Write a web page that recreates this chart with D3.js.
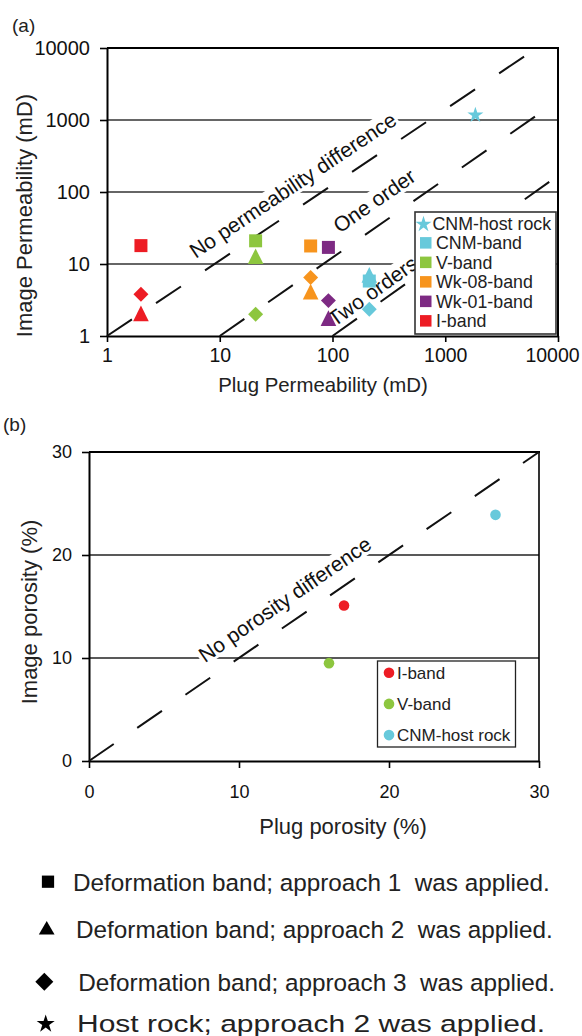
<!DOCTYPE html>
<html>
<head>
<meta charset="utf-8">
<script src="https://cdn.jsdelivr.net/npm/d3@7"></script>
<style>
  body { margin: 0; background: #fff; }
  svg { display: block; }
</style>
</head>
<body>
<svg width="582" height="1036"></svg>
<script>
// ---- (a) permeability data ----
const permGroups = ['CNM-host rock', 'CNM-band', 'V-band', 'Wk-08-band', 'Wk-01-band', 'I-band']
const permGroup = ['I-band', 'I-band', 'I-band', 'V-band', 'V-band', 'V-band',
  'Wk-08-band', 'Wk-08-band', 'Wk-08-band', 'Wk-01-band', 'Wk-01-band', 'Wk-01-band',
  'CNM-band', 'CNM-band', 'CNM-band', 'CNM-host rock']
const permApproach = ['1', '2', '3', '1', '2', '3', '1', '2', '3', '1', '2', '3', '1', '2', '3', 'host']
const plugPerm = [2, 2, 2, 20.8, 20.8, 20.8, 64, 64, 64, 92, 92, 92, 212, 212, 212, 1850]
const imagePerm = [18, 1.9, 3.8, 21, 11.8, 2.0, 17.8, 3.8, 6.5, 17, 1.63, 3.1, 5.8, 6.5, 2.35, 1170]
const permTicks = [1, 10, 100, 1000, 10000]

// reference lines drawn on (a)
const refNames = ['No permeability difference', 'One order', 'Two orders']
const refStart = [[1, 1], [10, 1], [100, 1]]
const refEnd = [[6500, 10000], [10000, 1860], [10000, 169]]
const refLabelAt = [57, 306, 266]

// ---- (b) porosity data ----
const poroGroups = ['I-band', 'V-band', 'CNM-host rock']
const plugPoro = [17, 16, 27.1]
const imagePoro = [15.1, 9.5, 23.9]
const poroTicks = [0, 10, 20, 30]

// ---- shape key ----
const keyShapes = ['1', '2', '3', 'host']
const keyTexts = [
  'Deformation band; approach 1\u00a0 was applied.',
  'Deformation band; approach 2\u00a0 was applied.',
  'Deformation band; approach 3\u00a0 was applied.',
  'Host rock; approach 2 was applied.'
]

const FONT = "'Liberation Sans', Arial, sans-serif"
const colors = d3.scaleOrdinal()
  .domain(['CNM-host rock', 'CNM-band', 'V-band', 'Wk-08-band', 'Wk-01-band', 'I-band'])
  .range(['#67c9db', '#67c9db', '#8dc63f', '#f7941d', '#7d2a83', '#ed1c24'])

const svg = d3.select('svg')

// isoceles triangle, centred on its centroid
const symbolTri = {
  draw (ctx, size) {
    const h = Math.sqrt(size * 2)
    ctx.moveTo(0, -h * 2 / 3)
    ctx.lineTo(h / 2, h / 3)
    ctx.lineTo(-h / 2, h / 3)
    ctx.closePath()
  }
}

function shapeOf (kind, big) {
  if (kind === '1') return { d: d3.symbol(d3.symbolSquare, big ? 150 : 169)(), rot: 0 }
  if (kind === '2') return { d: d3.symbol(big ? d3.symbolTriangle : symbolTri, big ? 107 : 122)(), rot: 0 }
  if (kind === '3') return { d: d3.symbol(d3.symbolSquare, big ? 162 : 112)(), rot: 45 }
  return { d: d3.symbol(d3.symbolStar, big ? 101 : 80)(), rot: 0 }
}

function styleAxis (g, size) {
  g.attr('font-family', null).attr('font-size', null)
  g.select('.domain').attr('stroke', '#000').attr('stroke-width', 2)
  g.selectAll('.tick line').attr('stroke', '#000').attr('stroke-width', 1.6)
  g.selectAll('.tick text').attr('font-family', FONT).attr('font-size', size).attr('fill', '#111')
}

function lineLabel (g, p1, p2, atX, off, text, size) {
  const ang = Math.atan2(p2[1] - p1[1], p2[0] - p1[0])
  const t = (atX - p1[0]) / (p2[0] - p1[0])
  const fx = atX
  const fy = p1[1] + t * (p2[1] - p1[1])
  const nx = Math.sin(ang)
  const ny = -Math.cos(ang)
  const lg = g.append('g')
    .attr('transform', 'translate(' + (fx + off * nx) + ',' + (fy + off * ny) + ') rotate(' + (ang * 180 / Math.PI) + ')')
  const bg = lg.append('rect').attr('fill', '#fff')
  const tx = lg.append('text')
    .attr('text-anchor', 'middle')
    .attr('font-family', FONT)
    .attr('font-size', size)
    .attr('fill', '#111')
    .text(text)
  const bb = tx.node().getBBox()
  bg.attr('x', bb.x - 2).attr('y', bb.y + 1).attr('width', bb.width + 4).attr('height', bb.height - 2)
}

// ================= panel (a) =================
const a = { left: 107, right: 558, top: 48, bottom: 336 }
const xA = d3.scaleLog().domain([1, 10000]).range([a.left, a.right])
const yA = d3.scaleLog().domain([1, 10000]).range([a.bottom, a.top])
const gA = svg.append('g')

gA.selectAll('.gridA')
  .data(permTicks.slice(1, -1))
  .enter().append('line')
  .attr('x1', a.left).attr('x2', a.right)
  .attr('y1', d => yA(d)).attr('y2', d => yA(d))
  .attr('stroke', '#333').attr('stroke-width', 1.3)

gA.append('line')
  .attr('x1', a.left).attr('x2', a.right + 1)
  .attr('y1', a.top).attr('y2', a.top)
  .attr('stroke', '#000').attr('stroke-width', 2.2)
gA.append('line')
  .attr('x1', a.right).attr('x2', a.right)
  .attr('y1', a.top).attr('y2', a.bottom)
  .attr('stroke', '#000').attr('stroke-width', 2)

gA.append('g')
  .attr('transform', 'translate(0,' + a.bottom + ')')
  .call(d3.axisBottom(xA).tickValues(permTicks).tickFormat(d3.format('d'))
    .tickSizeInner(6).tickSizeOuter(0).tickPadding(6))
  .call(g => styleAxis(g, 19.5))
  .call(g => g.selectAll('.tick text').filter(d => d === 10000).attr('dx', -6))

gA.append('g')
  .attr('transform', 'translate(' + a.left + ',0)')
  .call(d3.axisLeft(yA).tickValues(permTicks).tickFormat(d3.format('d'))
    .tickSizeInner(7).tickSizeOuter(0).tickPadding(10))
  .call(g => styleAxis(g, 20))

// reference line labels (white boxes hide gridlines)
refNames.forEach((name, i) => {
  const p1 = [xA(refStart[i][0]), yA(refStart[i][1])]
  const p2 = [xA(refEnd[i][0]), yA(refEnd[i][1])]
  lineLabel(gA, p1, p2, xA(refLabelAt[i]), [14.5, 15.3, 6][i], name, 21)
})

refNames.forEach((name, i) => {
  gA.append('line')
    .attr('x1', xA(refStart[i][0])).attr('y1', yA(refStart[i][1]))
    .attr('x2', xA(refEnd[i][0])).attr('y2', yA(refEnd[i][1]))
    .attr('stroke', '#111').attr('stroke-width', 2)
    .attr('stroke-dasharray', '30,29')
})

gA.selectAll('.pt')
  .data(d3.range(plugPerm.length))
  .enter().append('path')
  .attr('d', i => shapeOf(permApproach[i], false).d)
  .attr('transform', i => 'translate(' + xA(plugPerm[i]) + ',' + yA(imagePerm[i]) + ') rotate(' + shapeOf(permApproach[i], false).rot + ')')
  .attr('fill', i => colors(permGroup[i]))

// legend (a)
const legA = gA.append('g')
legA.append('rect')
  .attr('x', 415).attr('y', 212).attr('width', 141).attr('height', 122)
  .attr('fill', '#fff').attr('stroke', '#333').attr('stroke-width', 1.6)
permGroups.forEach((name, i) => {
  const cy = 223.3 + i * 19.5
  if (i === 0) {
    legA.append('path').attr('d', d3.symbol(d3.symbolStar, 80)())
      .attr('transform', 'translate(423.5,' + (cy + 1) + ')')
      .attr('fill', colors(name))
  } else {
    legA.append('rect').attr('x', 420).attr('y', cy - 5.7).attr('width', 11.5).attr('height', 11.5)
      .attr('fill', colors(name))
  }
  legA.append('text')
    .attr('x', i === 0 ? 432.5 : 436).attr('y', cy + 6.5)
    .attr('font-family', FONT).attr('font-size', 17.8).attr('fill', '#222')
    .text(name)
})

svg.append('text').attr('x', 323).attr('y', 392).attr('text-anchor', 'middle')
  .attr('font-family', FONT).attr('font-size', 20.4).attr('fill', '#222')
  .text('Plug Permeability (mD)')
svg.append('text').attr('transform', 'translate(32,215.5) rotate(-90)').attr('text-anchor', 'middle')
  .attr('font-family', FONT).attr('font-size', 22).attr('fill', '#222')
  .text('Image Permeability (mD)')
svg.append('text').attr('x', 12).attr('y', 32)
  .attr('font-family', FONT).attr('font-size', 19).attr('fill', '#222')
  .text('(a)')

// ================= panel (b) =================
const b = { left: 89, right: 539, top: 452, bottom: 761 }
const xB = d3.scaleLinear().domain([0, 30]).range([b.left, b.right])
const yB = d3.scaleLinear().domain([0, 30]).range([b.bottom, b.top])
const gB = svg.append('g')

gB.selectAll('.gridB')
  .data(poroTicks.slice(1, -1))
  .enter().append('line')
  .attr('x1', b.left).attr('x2', b.right)
  .attr('y1', d => yB(d)).attr('y2', d => yB(d))
  .attr('stroke', '#222').attr('stroke-width', 1.3)

gB.append('line')
  .attr('x1', b.left).attr('x2', b.right + 1)
  .attr('y1', b.top).attr('y2', b.top)
  .attr('stroke', '#000').attr('stroke-width', 2.2)
gB.append('line')
  .attr('x1', b.right).attr('x2', b.right)
  .attr('y1', b.top).attr('y2', b.bottom)
  .attr('stroke', '#000').attr('stroke-width', 1.6)

gB.append('g')
  .attr('transform', 'translate(0,' + b.bottom + ')')
  .call(d3.axisBottom(xB).tickValues(poroTicks).tickSizeInner(7).tickSizeOuter(0).tickPadding(17))
  .call(g => styleAxis(g, 18))

gB.append('g')
  .attr('transform', 'translate(' + b.left + ',0)')
  .call(d3.axisLeft(yB).tickValues(poroTicks).tickSizeInner(7).tickSizeOuter(0).tickPadding(10))
  .call(g => styleAxis(g, 18))

lineLabel(gB, [xB(0), yB(0)], [xB(30), yB(30)], xB(13.9), 15, 'No porosity difference', 21)

gB.append('line')
  .attr('x1', xB(0)).attr('y1', yB(0))
  .attr('x2', xB(30)).attr('y2', yB(30))
  .attr('stroke', '#111').attr('stroke-width', 2)
  .attr('stroke-dasharray', '30,28.5')

gB.selectAll('.dot')
  .data(d3.range(plugPoro.length))
  .enter().append('circle')
  .attr('cx', i => xB(plugPoro[i])).attr('cy', i => yB(imagePoro[i]))
  .attr('r', 5.3)
  .attr('fill', i => colors(poroGroups[i]))

const legB = gB.append('g')
legB.append('rect')
  .attr('x', 377.5).attr('y', 661).attr('width', 138).attr('height', 86)
  .attr('fill', '#fff').attr('stroke', '#222').attr('stroke-width', 1.3)
poroGroups.forEach((name, i) => {
  const cy = 672.7 + i * 31.2
  legB.append('circle').attr('cx', 389).attr('cy', cy).attr('r', 5.3).attr('fill', colors(name))
  legB.append('text').attr('x', 397).attr('y', cy + 6)
    .attr('font-family', FONT).attr('font-size', 17).attr('fill', '#222')
    .text(name)
})

svg.append('text').attr('x', 343).attr('y', 834).attr('text-anchor', 'middle')
  .attr('font-family', FONT).attr('font-size', 22).attr('fill', '#222')
  .text('Plug porosity (%)')
svg.append('text').attr('transform', 'translate(37,612) rotate(-90)').attr('text-anchor', 'middle')
  .attr('font-family', FONT).attr('font-size', 22).attr('fill', '#222')
  .text('Image porosity (%)')
svg.append('text').attr('x', 3).attr('y', 431)
  .attr('font-family', FONT).attr('font-size', 19).attr('fill', '#222')
  .text('(b)')

// ================= shape key =================
const keyRows = [
  { sx: 48, sy: 881.7, tx: 73, ty: 890.7, len: null },
  { sx: 46.7, sy: 930, tx: 76, ty: 938.3, len: null },
  { sx: 44.3, sy: 981.7, tx: 78.3, ty: 991, len: null },
  { sx: 45.7, sy: 1024, tx: 77, ty: 1032, len: 468 }
]
keyShapes.forEach((k, i) => {
  const s = shapeOf(k, true)
  svg.append('path').attr('d', s.d)
    .attr('transform', 'translate(' + keyRows[i].sx + ',' + keyRows[i].sy + ') rotate(' + s.rot + ')')
    .attr('fill', '#000')
  const t = svg.append('text').attr('x', keyRows[i].tx).attr('y', keyRows[i].ty)
    .attr('font-family', FONT).attr('font-size', 24.3).attr('fill', '#222')
    .text(keyTexts[i])
  if (keyRows[i].len) t.attr('textLength', keyRows[i].len).attr('lengthAdjust', 'spacingAndGlyphs')
})
</script>
</body>
</html>
